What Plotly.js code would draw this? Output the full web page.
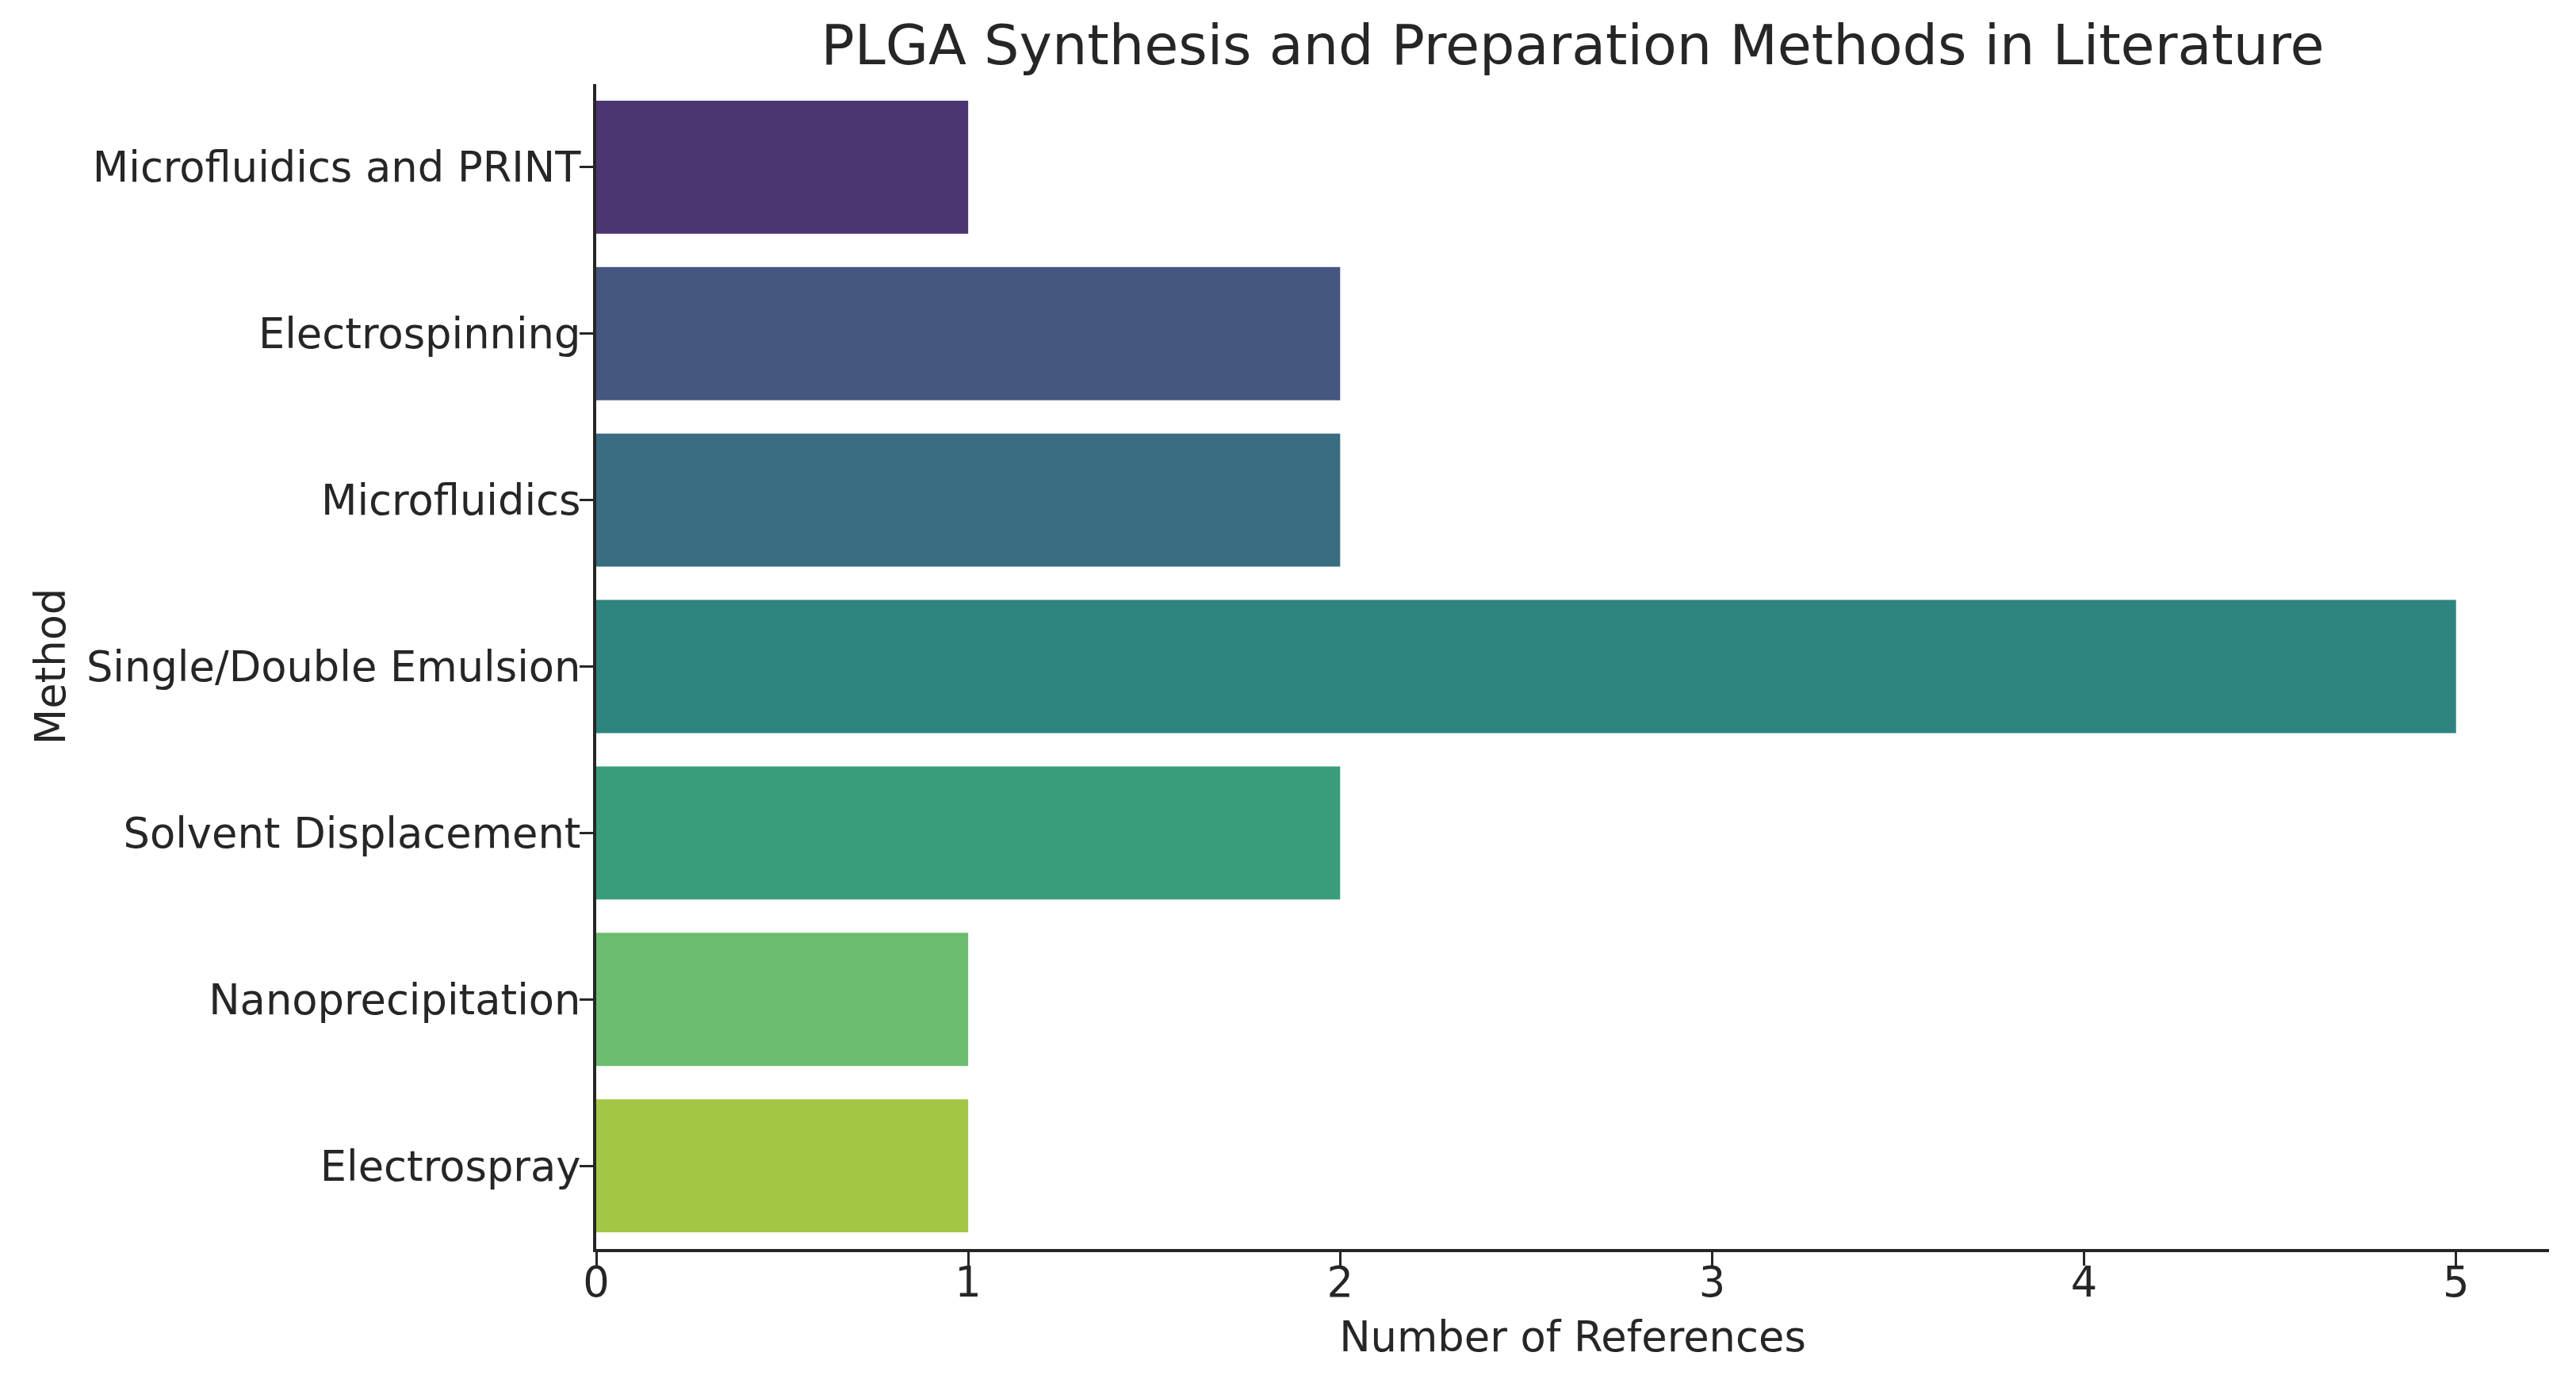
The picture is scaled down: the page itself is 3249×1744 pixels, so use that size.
<!DOCTYPE html>
<html>
<head>
<meta charset="utf-8">
<script src="https://cdn.plot.ly/plotly-3.0.1.min.js"></script>
<style>html,body{margin:0;padding:0;background:#fff;}#chart{width:3249px;height:1744px;}</style>
</head>
<body>
<div id="chart"></div>
<script>
const methods = [
  "Microfluidics and PRINT",
  "Electrospinning",
  "Microfluidics",
  "Single/Double Emulsion",
  "Solvent Displacement",
  "Nanoprecipitation",
  "Electrospray"
];
const references = [1, 2, 2, 5, 2, 1, 1];
const xTicks = [0, 1, 2, 3, 4, 5];
const xTickLabels = ["0", "1", "2", "3", "4", "5"];
const baseColors = ["#472d7b", "#3b528b", "#2c728e", "#21918c", "#28ae80", "#5ec962", "#addc30"];

function desaturate(hex, prop) {
  let r = parseInt(hex.substr(1,2),16)/255, g = parseInt(hex.substr(3,2),16)/255, b = parseInt(hex.substr(5,2),16)/255;
  const mx = Math.max(r,g,b), mn = Math.min(r,g,b);
  let h = 0, s = 0; const l = (mx+mn)/2;
  if (mx !== mn) {
    const d = mx - mn;
    s = l > 0.5 ? d/(2-mx-mn) : d/(mx+mn);
    if (mx === r) h = ((g-b)/d + (g<b?6:0));
    else if (mx === g) h = (b-r)/d + 2;
    else h = (r-g)/d + 4;
    h /= 6;
  }
  s *= prop;
  function hue2rgb(p,q,t){ if(t<0)t+=1; if(t>1)t-=1; if(t<1/6)return p+(q-p)*6*t; if(t<1/2)return q; if(t<2/3)return p+(q-p)*(2/3-t)*6; return p; }
  let R,G,B;
  if (s === 0) { R=G=B=l; } else {
    const q = l < 0.5 ? l*(1+s) : l+s-l*s; const p = 2*l-q;
    R = hue2rgb(p,q,h+1/3); G = hue2rgb(p,q,h); B = hue2rgb(p,q,h-1/3);
  }
  return "rgb(" + Math.round(R*255) + "," + Math.round(G*255) + "," + Math.round(B*255) + ")";
}
const colors = baseColors.map(c => desaturate(c, 0.75));

const textColor = "#262626";
const font = "DejaVu Sans, Liberation Sans, sans-serif";

const data = [{
  type: "bar",
  orientation: "h",
  y: methods,
  x: references,
  marker: { color: colors, line: { width: 0 } },
  hoverinfo: "none"
}];

const layout = {
  width: 3249, height: 1744,
  paper_bgcolor: "#ffffff", plot_bgcolor: "#ffffff",
  margin: { l: 752, r: 34, t: 106, b: 169, pad: 0 },
  bargap: 0.2,
  showlegend: false,
  font: { family: font, color: textColor, size: 52.7 },
  title: {
    text: "PLGA Synthesis and Preparation Methods in Literature",
    font: { family: font, size: 70, color: textColor },
    x: 0.5, xref: "paper", xanchor: "center",
    y: 0.9677, yref: "container", yanchor: "middle"
  },
  xaxis: {
    range: [0, 5.25],
    tickmode: "array", tickvals: xTicks, ticktext: xTickLabels,
    showgrid: false, zeroline: false,
    showline: true, linecolor: textColor, linewidth: 4,
    ticks: "outside", ticklen: 17, tickwidth: 3, tickcolor: textColor,
    ticklabelstandoff: -24,
    tickfont: { family: font, size: 52.7, color: textColor },
    title: { text: "Number of References", font: { family: font, size: 52.7, color: textColor }, standoff: 22 },
    automargin: false, fixedrange: true
  },
  yaxis: {
    type: "category",
    categoryorder: "array", categoryarray: methods,
    range: [6.5, -0.5],
    showgrid: false, zeroline: false,
    showline: true, linecolor: textColor, linewidth: 4,
    ticks: "outside", ticklen: 17, tickwidth: 3, tickcolor: textColor,
    ticklabelstandoff: -12,
    tickfont: { family: font, size: 52.7, color: textColor },
    title: { text: "Method", font: { family: font, size: 52.7, color: textColor }, standoff: 10 },
    automargin: false, fixedrange: true
  }
};

Plotly.newPlot("chart", data, layout, { staticPlot: true, displayModeBar: false });
</script>
</body>
</html>
